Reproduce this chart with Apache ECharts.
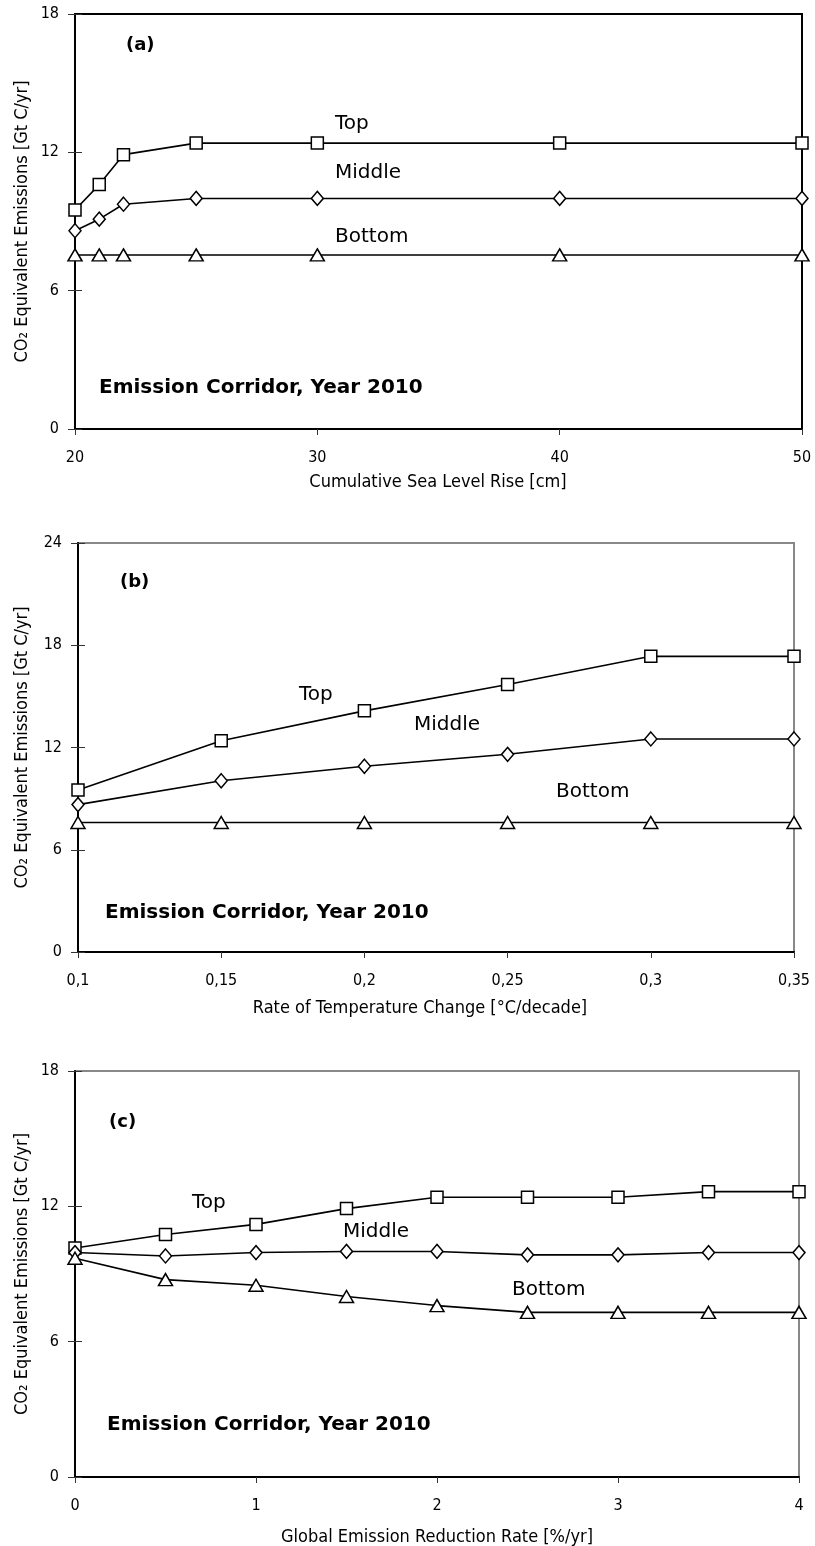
<!DOCTYPE html>
<html><head><meta charset="utf-8">
<script src="https://cdn.jsdelivr.net/npm/echarts@6/dist/echarts.min.js"></script>
<style>html,body{margin:0;padding:0;background:#fff}#c{width:815px;height:1546px}</style>
</head><body><div id="c"></div>
<script>
// ---- data ----
const xA = [20, 21, 22, 25, 30, 40, 50];
const topA = [9.5, 10.6, 11.9, 12.4, 12.4, 12.4, 12.4];
const midA = [8.6, 9.1, 9.75, 10.0, 10.0, 10.0, 10.0];
const botA = [7.55, 7.55, 7.55, 7.55, 7.55, 7.55, 7.55];

const xB = [0.1, 0.15, 0.2, 0.25, 0.3, 0.35];
const topB = [9.5, 12.4, 14.15, 15.7, 17.35, 17.35];
const midB = [8.65, 10.05, 10.9, 11.6, 12.5, 12.5];
const botB = [7.6, 7.6, 7.6, 7.6, 7.6, 7.6];

const xC = [0, 0.5, 1, 1.5, 2, 2.5, 3, 3.5, 4];
const topC = [10.15, 10.75, 11.2, 11.9, 12.4, 12.4, 12.4, 12.65, 12.65];
const midC = [9.95, 9.8, 9.95, 10.0, 10.0, 9.85, 9.85, 9.95, 9.95];
const botC = [9.7, 8.75, 8.5, 8.0, 7.6, 7.3, 7.3, 7.3, 7.3];

const xTitles = ['Cumulative Sea Level Rise [cm]', 'Rate of Temperature Change [°C/decade]', 'Global Emission Reduction Rate [%/yr]'];
const yTitle = 'CO\u2082 Equivalent Emissions [Gt C/yr]';
const panelTags = ['(a)', '(b)', '(c)'];
const seriesNames = ['Top', 'Middle', 'Bottom'];
const corridor = 'Emission Corridor, Year 2010';

// ---- layout ----
const NARROW = '"DejaVu Sans Condensed", "Liberation Sans Narrow", "DejaVu Sans", sans-serif';
const WIDE = '"DejaVu Sans", sans-serif';
const grids = [
  {left: 75, top: 14, width: 727, height: 415, border: '#000', xr: [20, 50, 10], yr: [0, 18, 6]},
  {left: 78, top: 543, width: 716, height: 409, border: '#888', xr: [0.1, 0.35, 0.05], yr: [0, 24, 6]},
  {left: 75, top: 1071, width: 724, height: 406, border: '#888', xr: [0, 4, 1], yr: [0, 18, 6]}
];
const panels = [[xA, topA, midA, botA], [xB, topB, midB, botB], [xC, topC, midC, botC]];
const fmtX = [v => String(v), v => String(+(+v).toFixed(2)).replace('.', ','), v => String(v)];

const option = {animation: false, backgroundColor: '#fff', grid: [], xAxis: [], yAxis: [], series: [], graphic: []};
grids.forEach((g, i) => {
  option.grid.push({left: g.left, top: g.top, width: g.width, height: g.height, show: true,
    borderColor: g.border, borderWidth: 2, backgroundColor: 'transparent'});
  option.xAxis.push({type: 'value', gridIndex: i, min: g.xr[0], max: g.xr[1], interval: g.xr[2],
    axisLine: {lineStyle: {color: '#000', width: 2}}, splitLine: {show: false},
    axisTick: {length: 6, lineStyle: {color: '#333', width: 1}},
    axisLabel: {margin: 21, fontFamily: NARROW, fontSize: 16, color: '#000', formatter: fmtX[i]}});
  option.yAxis.push({type: 'value', gridIndex: i, min: g.yr[0], max: g.yr[1], interval: g.yr[2],
    axisLine: {show: true, lineStyle: {color: '#000', width: 2}}, splitLine: {show: false},
    axisTick: {show: true, length: 7, lineStyle: {color: '#333', width: 1}},
    axisLabel: {margin: 16, fontFamily: NARROW, fontSize: 16, color: '#000'}});
});
// inside tick duplicates (ticks cross the axis)
grids.forEach((g, i) => {
  option.xAxis.push({type: 'value', gridIndex: i, min: g.xr[0], max: g.xr[1], interval: g.xr[2],
    axisLine: {show: false}, splitLine: {show: false}, axisLabel: {show: false},
    axisTick: {inside: true, length: 5, lineStyle: {color: '#333', width: 1}}});
  option.yAxis.push({type: 'value', gridIndex: i, min: g.yr[0], max: g.yr[1], interval: g.yr[2], position: 'left',
    axisLine: {show: false}, splitLine: {show: false}, axisLabel: {show: false},
    axisTick: {show: true, inside: true, length: 7, lineStyle: {color: '#333', width: 1}}});
});

const symbols = [['rect', 12], ['diamond', [12, 14]], ['triangle', [14, 12]]];
panels.forEach((p, i) => {
  const xs = p[0];
  for (let k = 0; k < 3; k++) {
    option.series.push({type: 'line', name: seriesNames[k], xAxisIndex: i, yAxisIndex: i,
      data: xs.map((x, j) => [x, p[k + 1][j]]),
      symbol: symbols[k][0], symbolSize: symbols[k][1], showSymbol: true,
      lineStyle: {color: '#000', width: 1.6},
      itemStyle: {color: '#fff', borderColor: '#000', borderWidth: 1.5}, z: 3});
  }
});

function txt(text, x, y, opt) {
  option.graphic.push({type: 'text', x: x, y: y, style: Object.assign({text: text, fontFamily: WIDE,
    fontSize: 15, fill: '#000', align: 'left', verticalAlign: 'middle'}, opt || {})});
}
const ann = [
  {tag: [126, 45], top: [335, 124], mid: [335, 173], bot: [335, 237], cor: [99, 388], xt: [438, 482]},
  {tag: [120, 582], top: [299, 695], mid: [414, 725], bot: [556, 792], cor: [105, 913], xt: [420, 1008]},
  {tag: [109, 1122], top: [192, 1203], mid: [343, 1232], bot: [512, 1290], cor: [107, 1425], xt: [437, 1537]}
];
ann.forEach((a, i) => {
  const g = grids[i];
  txt(panelTags[i], a.tag[0], a.tag[1], {fontSize: 18, fontWeight: 'bold'});
  txt(seriesNames[0], a.top[0], a.top[1], {fontSize: 20});
  txt(seriesNames[1], a.mid[0], a.mid[1], {fontSize: 20});
  txt(seriesNames[2], a.bot[0], a.bot[1], {fontSize: 20});
  txt(corridor, a.cor[0], a.cor[1], {fontSize: 20, fontWeight: 'bold'});
  txt(xTitles[i], a.xt[0], a.xt[1], {fontFamily: NARROW, fontSize: 18, align: 'center'});
  option.graphic.push({type: 'text', x: 22, y: g.top + g.height / 2, rotation: Math.PI / 2,
    style: {text: yTitle, fontFamily: NARROW, fontSize: 18, fill: '#000', align: 'center', verticalAlign: 'middle'}});
});

const chart = echarts.init(document.getElementById('c'), null, {renderer: 'canvas'});
chart.setOption(option);
</script></body></html>
